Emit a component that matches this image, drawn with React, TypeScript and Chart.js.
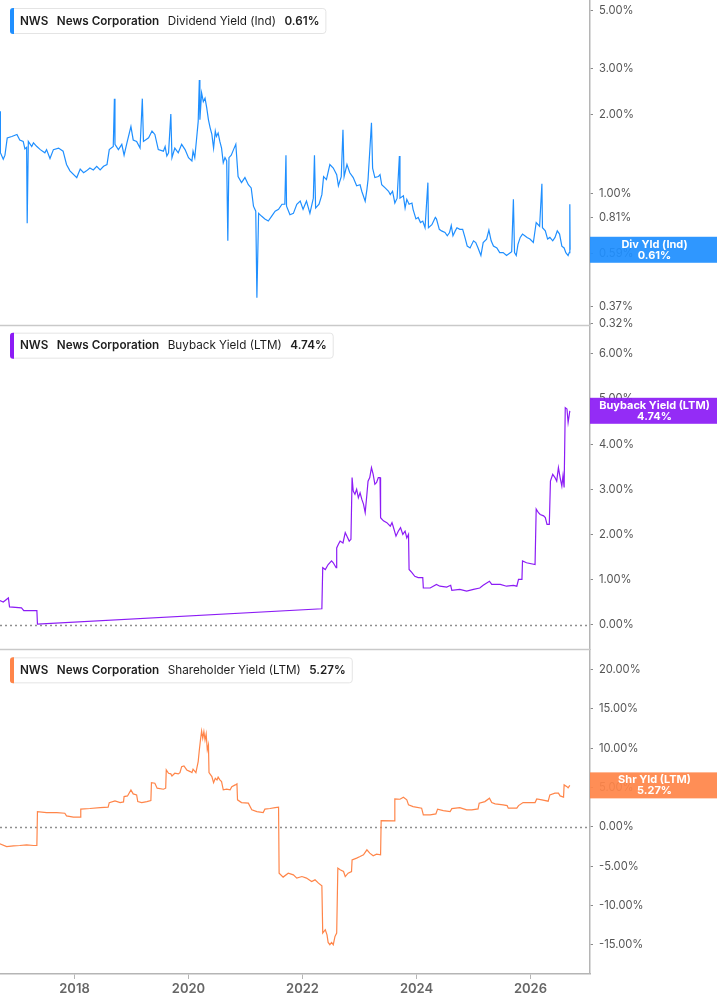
import React, { useEffect, useRef } from "react";
import { Chart, registerables } from "chart.js";

Chart.register(...registerables);
Chart.defaults.font.family = "Inter, 'Noto Sans', sans-serif";

const yearTicks = [2018, 2020, 2022, 2024, 2026];
const divTicks = [5, 3, 2, 1, 0.81, 0.59, 0.37, 0.32];
const buybackTicks = [6, 5, 4, 3, 2, 1, 0];
const shrTicks = [20, 15, 10, 5, 0, -5, -10, -15];

// [year, yield %]
const divYield: [number, number][] = [
  [2016.69, 2.06], [2016.70, 1.43], [2016.75, 1.35], [2016.78, 1.40], [2016.82, 1.63], [2016.90, 1.65],
  [2016.99, 1.68], [2017.04, 1.60], [2017.10, 1.58], [2017.13, 1.48], [2017.16, 1.50], [2017.17, 0.77],
  [2017.19, 1.58], [2017.25, 1.51], [2017.28, 1.56], [2017.34, 1.51], [2017.40, 1.47], [2017.48, 1.43],
  [2017.51, 1.47], [2017.57, 1.36], [2017.63, 1.47], [2017.72, 1.49], [2017.80, 1.45], [2017.86, 1.29],
  [2017.92, 1.22], [2018.04, 1.15], [2018.10, 1.24], [2018.16, 1.20], [2018.21, 1.22], [2018.27, 1.25],
  [2018.33, 1.23], [2018.39, 1.27], [2018.45, 1.23], [2018.51, 1.27], [2018.57, 1.29], [2018.61, 1.47],
  [2018.68, 1.51], [2018.70, 2.30], [2018.71, 1.54], [2018.77, 1.47], [2018.83, 1.54], [2018.87, 1.40],
  [2018.92, 1.56], [2018.99, 1.80], [2019.03, 1.60], [2019.09, 1.58], [2019.15, 1.49], [2019.19, 2.30],
  [2019.21, 1.58], [2019.30, 1.63], [2019.36, 1.73], [2019.41, 1.68], [2019.47, 1.47], [2019.56, 1.45],
  [2019.59, 1.51], [2019.62, 1.39], [2019.65, 1.43], [2019.69, 2.01], [2019.71, 1.37], [2019.76, 1.49],
  [2019.82, 1.43], [2019.88, 1.54], [2019.94, 1.47], [2020.00, 1.37], [2020.06, 1.33], [2020.08, 1.45],
  [2020.11, 1.37], [2020.14, 1.60], [2020.17, 1.88], [2020.19, 2.71], [2020.20, 1.91], [2020.23, 2.42],
  [2020.26, 2.24], [2020.29, 2.31], [2020.32, 2.12], [2020.35, 1.91], [2020.38, 1.78], [2020.41, 1.68],
  [2020.44, 1.49], [2020.47, 1.73], [2020.49, 1.65], [2020.52, 1.70], [2020.55, 1.58], [2020.58, 1.49],
  [2020.61, 1.31], [2020.64, 1.37], [2020.67, 1.33], [2020.69, 0.66], [2020.71, 1.37], [2020.75, 1.40],
  [2020.79, 1.47], [2020.83, 1.54], [2020.87, 1.16], [2020.93, 1.10], [2020.99, 1.15], [2021.05, 1.08],
  [2021.10, 1.05], [2021.14, 0.895], [2021.18, 0.856], [2021.20, 0.40], [2021.23, 0.84], [2021.28, 0.82],
  [2021.34, 0.80], [2021.40, 0.785], [2021.46, 0.82], [2021.52, 0.856], [2021.58, 0.87], [2021.64, 0.91],
  [2021.69, 0.91], [2021.71, 1.40], [2021.72, 0.895], [2021.78, 0.83], [2021.84, 0.84], [2021.90, 0.91],
  [2021.96, 0.935], [2022.01, 0.87], [2022.07, 0.935], [2022.13, 0.84], [2022.19, 0.96], [2022.21, 1.40],
  [2022.23, 0.88], [2022.29, 0.91], [2022.34, 0.99], [2022.37, 1.16], [2022.42, 1.13], [2022.48, 1.29],
  [2022.54, 1.25], [2022.60, 1.18], [2022.63, 1.07], [2022.68, 1.16], [2022.71, 1.75], [2022.73, 1.16],
  [2022.78, 1.29], [2022.83, 1.20], [2022.89, 1.15], [2022.95, 1.07], [2023.01, 1.08], [2023.04, 1.02],
  [2023.10, 0.935], [2023.13, 1.035], [2023.15, 1.13], [2023.21, 1.86], [2023.23, 1.25], [2023.27, 1.15],
  [2023.33, 1.16], [2023.36, 1.18], [2023.39, 1.08], [2023.45, 1.05], [2023.51, 1.02], [2023.54, 0.99],
  [2023.58, 1.02], [2023.62, 0.92], [2023.66, 0.96], [2023.70, 1.39], [2023.71, 0.96], [2023.77, 0.98],
  [2023.80, 0.88], [2023.83, 0.95], [2023.87, 0.91], [2023.92, 0.92], [2023.94, 0.87], [2023.99, 0.80],
  [2024.03, 0.81], [2024.07, 0.775], [2024.11, 0.785], [2024.15, 0.74], [2024.20, 1.10], [2024.21, 0.74],
  [2024.27, 0.76], [2024.33, 0.81], [2024.35, 0.80], [2024.40, 0.73], [2024.44, 0.72], [2024.50, 0.71],
  [2024.54, 0.69], [2024.58, 0.71], [2024.61, 0.755], [2024.64, 0.69], [2024.68, 0.72], [2024.71, 0.74],
  [2024.76, 0.73], [2024.81, 0.73], [2024.85, 0.68], [2024.89, 0.63], [2024.94, 0.62], [2025.00, 0.66],
  [2025.04, 0.65], [2025.08, 0.62], [2025.13, 0.58], [2025.17, 0.65], [2025.23, 0.67], [2025.27, 0.725],
  [2025.31, 0.66], [2025.35, 0.63], [2025.41, 0.62], [2025.46, 0.595], [2025.52, 0.595], [2025.58, 0.58],
  [2025.67, 0.60], [2025.70, 0.95], [2025.72, 0.595], [2025.75, 0.58], [2025.78, 0.64], [2025.82, 0.68],
  [2025.86, 0.70], [2025.90, 0.69], [2025.94, 0.68], [2025.99, 0.67], [2026.05, 0.65], [2026.10, 0.775],
  [2026.16, 0.75], [2026.20, 1.09], [2026.21, 0.74], [2026.26, 0.72], [2026.30, 0.67], [2026.34, 0.68],
  [2026.39, 0.66], [2026.43, 0.68], [2026.47, 0.72], [2026.51, 0.70], [2026.55, 0.63], [2026.59, 0.62],
  [2026.62, 0.595], [2026.66, 0.58], [2026.68, 0.595], [2026.69, 0.91], [2026.695, 0.61],
];

const buybackYield: [number, number][] = [
  [2016.69, 0.53], [2016.75, 0.50], [2016.84, 0.59], [2016.86, 0.39], [2017.07, 0.37], [2017.11, 0.31],
  [2017.34, 0.31], [2017.35, 0.01], [2022.34, 0.35], [2022.355, 1.26], [2022.40, 1.22], [2022.45, 1.33],
  [2022.51, 1.41], [2022.54, 1.37], [2022.59, 1.26], [2022.60, 1.70], [2022.63, 1.78], [2022.66, 1.85],
  [2022.71, 1.81], [2022.75, 2.04], [2022.78, 1.96], [2022.82, 1.85], [2022.85, 1.89], [2022.87, 3.26],
  [2022.89, 2.96], [2022.92, 2.89], [2022.95, 3.00], [2022.98, 2.81], [2023.01, 2.92], [2023.04, 2.78],
  [2023.07, 2.67], [2023.10, 2.48], [2023.13, 2.89], [2023.15, 3.18], [2023.18, 3.26], [2023.21, 3.48],
  [2023.24, 3.33], [2023.27, 3.11], [2023.30, 3.15], [2023.33, 3.26], [2023.36, 3.26], [2023.37, 2.37],
  [2023.42, 2.30], [2023.48, 2.26], [2023.54, 2.18], [2023.57, 2.26], [2023.59, 2.18], [2023.64, 1.96],
  [2023.68, 2.07], [2023.72, 2.15], [2023.76, 2.00], [2023.80, 2.07], [2023.83, 1.92], [2023.86, 2.00],
  [2023.87, 1.22], [2023.92, 1.15], [2023.97, 1.07], [2024.03, 1.04], [2024.11, 1.04], [2024.12, 0.81],
  [2024.24, 0.81], [2024.35, 0.89], [2024.41, 0.85], [2024.53, 0.83], [2024.60, 0.87], [2024.62, 0.76],
  [2024.76, 0.78], [2024.88, 0.74], [2025.00, 0.78], [2025.11, 0.81], [2025.17, 0.87], [2025.28, 0.96],
  [2025.32, 0.89], [2025.47, 0.89], [2025.58, 0.85], [2025.70, 0.87], [2025.76, 0.85], [2025.79, 1.00],
  [2025.85, 1.00], [2025.86, 1.41], [2025.93, 1.37], [2026.08, 1.33], [2026.10, 2.56], [2026.14, 2.48],
  [2026.17, 2.44], [2026.23, 2.41], [2026.26, 2.37], [2026.29, 2.22], [2026.33, 2.22], [2026.35, 3.18],
  [2026.39, 3.33], [2026.43, 3.26], [2026.46, 3.18], [2026.49, 3.48], [2026.52, 3.26], [2026.55, 3.07],
  [2026.57, 3.30], [2026.59, 3.04], [2026.61, 4.81], [2026.64, 4.78], [2026.66, 4.48], [2026.69, 4.74],
];

const shareholderYield: [number, number][] = [
  [2016.69, -2.16], [2016.81, -2.50], [2016.93, -2.41], [2017.04, -2.37], [2017.16, -2.28], [2017.28, -2.37],
  [2017.34, -2.37], [2017.35, 1.94], [2017.51, 1.82], [2017.69, 1.82], [2017.83, 1.73], [2017.86, 1.40],
  [2017.98, 1.23], [2018.10, 1.23], [2018.11, 2.25], [2018.27, 2.33], [2018.45, 2.45], [2018.59, 2.50],
  [2018.61, 3.08], [2018.71, 3.30], [2018.80, 3.08], [2018.86, 3.17], [2018.87, 3.85], [2018.93, 3.93],
  [2018.99, 4.70], [2019.03, 4.19], [2019.09, 4.06], [2019.11, 3.21], [2019.18, 3.08], [2019.27, 3.21],
  [2019.34, 3.34], [2019.35, 5.62], [2019.41, 5.54], [2019.45, 4.91], [2019.56, 4.78], [2019.60, 4.91],
  [2019.61, 7.23], [2019.65, 6.81], [2019.69, 6.73], [2019.71, 6.47], [2019.76, 6.81], [2019.82, 6.73],
  [2019.85, 6.89], [2019.88, 7.65], [2019.92, 7.74], [2019.97, 7.23], [2020.03, 7.02], [2020.06, 6.89],
  [2020.08, 7.32], [2020.13, 6.89], [2020.17, 8.29], [2020.19, 9.77], [2020.21, 11.04], [2020.23, 12.18],
  [2020.25, 11.26], [2020.27, 12.09], [2020.29, 11.04], [2020.31, 11.80], [2020.33, 9.77], [2020.35, 10.41],
  [2020.36, 6.89], [2020.41, 6.38], [2020.44, 5.62], [2020.47, 6.18], [2020.50, 5.96], [2020.52, 6.31],
  [2020.55, 5.96], [2020.58, 5.75], [2020.61, 4.70], [2020.67, 4.78], [2020.73, 4.70], [2020.76, 5.11],
  [2020.82, 5.33], [2020.85, 5.46], [2020.86, 3.43], [2020.93, 3.08], [2021.05, 3.01], [2021.11, 2.16],
  [2021.20, 1.94], [2021.31, 1.82], [2021.34, 2.25], [2021.43, 2.33], [2021.52, 2.45], [2021.58, 2.50],
  [2021.59, -5.88], [2021.66, -6.38], [2021.75, -5.88], [2021.84, -6.09], [2021.90, -6.51], [2021.99, -6.31],
  [2022.07, -6.51], [2022.16, -6.94], [2022.22, -6.73], [2022.28, -7.15], [2022.34, -7.49], [2022.355, -13.49],
  [2022.40, -13.07], [2022.43, -13.71], [2022.45, -14.68], [2022.48, -14.97], [2022.51, -14.68], [2022.54, -14.97],
  [2022.57, -13.92], [2022.60, -13.49], [2022.62, -5.24], [2022.66, -5.46], [2022.72, -5.67], [2022.75, -6.31],
  [2022.80, -5.88], [2022.86, -5.67], [2022.87, -4.19], [2022.95, -3.97], [2023.01, -3.77], [2023.07, -3.55],
  [2023.13, -2.92], [2023.18, -3.34], [2023.24, -3.68], [2023.30, -3.47], [2023.37, -3.55], [2023.38, 0.80],
  [2023.61, 0.76], [2023.62, 3.55], [2023.71, 3.51], [2023.77, 3.77], [2023.83, 3.43], [2023.86, 2.79],
  [2023.94, 2.58], [2024.09, 2.37], [2024.12, 1.52], [2024.24, 1.52], [2024.34, 1.65], [2024.37, 2.25],
  [2024.47, 2.07], [2024.59, 1.94], [2024.62, 2.32], [2024.76, 2.45], [2024.88, 2.16], [2024.97, 2.16],
  [2025.08, 2.28], [2025.10, 3.01], [2025.20, 3.21], [2025.28, 3.64], [2025.32, 3.08], [2025.38, 2.92],
  [2025.52, 2.79], [2025.59, 2.70], [2025.61, 2.37], [2025.76, 2.37], [2025.79, 2.70], [2025.87, 3.08],
  [2025.99, 3.08], [2026.08, 3.08], [2026.11, 3.55], [2026.20, 3.43], [2026.31, 3.26], [2026.34, 4.06],
  [2026.43, 4.28], [2026.49, 4.28], [2026.52, 3.93], [2026.58, 3.77], [2026.59, 5.33], [2026.64, 5.11],
  [2026.66, 4.95], [2026.69, 5.27],
];

const ticker = "NWS";
const company = "News Corporation";

const panels = [
  { axis: "yDiv", color: "#1f8fff", title: "Dividend Yield (Ind)", tag: "Div Yld (Ind)", last: 0.61 },
  { axis: "yBuy", color: "#8c1cf5", title: "Buyback Yield (LTM)", tag: "Buyback Yield (LTM)", last: 4.74 },
  { axis: "yShr", color: "#ff8549", title: "Shareholder Yield (LTM)", tag: "Shr Yld (LTM)", last: 5.27 },
];

const AXIS_W = 127;
const pct = (v: any) => Number(v).toFixed(2) + "%";

const panelPlugin = {
  id: "panelDecor",
  beforeDatasetsDraw(chart: any) {
    const { ctx, chartArea } = chart;
    ctx.save();
    ["yBuy", "yShr"].forEach((id) => {
      const y = Math.round(chart.scales[id].getPixelForValue(0)) + 0.5;
      ctx.strokeStyle = "#8f8f8f";
      ctx.lineWidth = 1.3;
      ctx.setLineDash([2, 3]);
      ctx.beginPath();
      ctx.moveTo(chartArea.left, y);
      ctx.lineTo(chartArea.right, y);
      ctx.stroke();
    });
    ctx.restore();
  },
  afterDraw(chart: any) {
    const { ctx, chartArea } = chart;
    ctx.save();
    // separators between panels
    ["yDiv", "yBuy"].forEach((id) => {
      const y = Math.round(chart.scales[id].bottom) + 0.5;
      ctx.strokeStyle = "#c9c9c9";
      ctx.lineWidth = 1.3;
      ctx.beginPath();
      ctx.moveTo(chartArea.left, y);
      ctx.lineTo(chartArea.right, y);
      ctx.stroke();
    });

    panels.forEach((p) => {
      const scale = chart.scales[p.axis];
      // legend box
      const segs = [
        { t: ticker, w: 600 },
        { t: company, w: 600 },
        { t: p.title, w: 400 },
        { t: p.last.toFixed(2) + "%", w: 600 },
      ];
      const fs = 11.7;
      const gap = 8.5;
      let total = 0;
      const widths = segs.map((s) => {
        ctx.font = `${s.w} ${fs}px Inter`;
        const w = ctx.measureText(s.t).width;
        total += w;
        return w;
      });
      total += gap * (segs.length - 1);
      const bx = 10;
      const by = scale.top + 8;
      const bh = 25;
      const bw = 10 + total + 6;
      ctx.fillStyle = "#ffffff";
      ctx.strokeStyle = "#e4e4e4";
      ctx.lineWidth = 1;
      ctx.beginPath();
      ctx.roundRect(bx + 0.5, by + 0.5, bw, bh, 3);
      ctx.fill();
      ctx.stroke();
      ctx.fillStyle = p.color;
      ctx.beginPath();
      ctx.roundRect(bx, by, 4, bh + 1, [3, 0, 0, 3]);
      ctx.fill();
      let tx = bx + 10;
      ctx.textBaseline = "middle";
      ctx.textAlign = "left";
      ctx.fillStyle = "#1e1e1e";
      segs.forEach((s, i) => {
        ctx.font = `${s.w} ${fs}px Inter`;
        ctx.fillText(s.t, tx, by + bh / 2 + 0.5);
        tx += widths[i] + gap;
      });

      // last value tag on the axis
      const cy = scale.getPixelForValue(p.last);
      const th = 26;
      ctx.globalAlpha = 0.93;
      ctx.fillStyle = p.color;
      ctx.fillRect(chartArea.right, cy - th / 2, chart.width - chartArea.right, th);
      ctx.globalAlpha = 1;
      ctx.fillStyle = "#ffffff";
      ctx.textAlign = "center";
      ctx.font = "700 11px Inter";
      const cx = (chartArea.right + chart.width) / 2 + 1;
      ctx.fillText(p.tag, cx, cy - 5.5);
      ctx.fillText(p.last.toFixed(2) + "%", cx, cy + 5.5);
    });
    ctx.restore();
  },
};

const yAxisCommon = (ticksList: number[], weight: number, min: number, max: number) => ({
  min,
  max,
  position: "right" as const,
  stack: "panels",
  stackWeight: 1,
  weight,
  border: { display: true, color: "#b5b5b5", width: 1.5 },
  grid: { display: true, drawOnChartArea: false, drawTicks: true, tickLength: 3, color: "#8a8a8a" },
  ticks: {
    autoSkip: false,
    padding: 6,
    color: "#555555",
    font: { size: 11.2 },
    callback: pct,
  },
  afterBuildTicks: (s: any) => {
    s.ticks = ticksList.map((v) => ({ value: v }));
    s.min = min;
    s.max = max;
  },
  afterFit: (s: any) => {
    s.width = AXIS_W;
    s.paddingTop = 0;
    s.paddingBottom = 0;
  },
});

const App: React.FC = () => {
  const canvasRef = useRef<HTMLCanvasElement>(null);
  const chartRef = useRef<Chart | null>(null);

  useEffect(() => {
    if (!canvasRef.current) return;
    const ctx = canvasRef.current.getContext("2d");
    if (!ctx) return;
    if (chartRef.current) chartRef.current.destroy();

    const toXY = (arr: [number, number][]) => arr.map(([x, y]) => ({ x, y }));

    chartRef.current = new Chart(ctx, {
      type: "line",
      data: {
        datasets: [
          { data: toXY(divYield), yAxisID: "yDiv", borderColor: panels[0].color },
          { data: toXY(buybackYield), yAxisID: "yBuy", borderColor: panels[1].color },
          { data: toXY(shareholderYield), yAxisID: "yShr", borderColor: panels[2].color },
        ].map((d) => ({ ...d, borderWidth: 1.2, pointRadius: 0, fill: false, tension: 0 })),
      },
      options: {
        animation: false,
        responsive: true,
        maintainAspectRatio: false,
        layout: { padding: 0 },
        plugins: {
          legend: { display: false },
          tooltip: { enabled: false },
        },
        scales: {
          x: {
            type: "linear",
            min: 2016.693,
            max: 2027.044,
            border: { display: true, color: "#b5b5b5", width: 1.5 },
            grid: { display: true, drawOnChartArea: false, drawTicks: true, tickLength: 5, color: "#b5b5b5" },
            ticks: {
              autoSkip: false,
              maxRotation: 0,
              padding: 2,
              color: "#666666",
              font: { size: 13, weight: 600 },
              callback: (v: any) => String(v),
            },
            afterBuildTicks: (s: any) => {
              s.ticks = yearTicks.map((v) => ({ value: v }));
            },
            afterFit: (s: any) => {
              s.height = 31;
              s.paddingLeft = 0;
              s.paddingRight = 0;
            },
          },
          yDiv: { type: "logarithmic", ...yAxisCommon(divTicks, 1, 0.316, 5.47) },
          yBuy: { type: "linear", ...yAxisCommon(buybackTicks, 2, -0.55, 6.65) },
          yShr: { type: "linear", ...yAxisCommon(shrTicks, 3, -18.69, 22.55) },
        },
      } as any,
      plugins: [panelPlugin],
    });

    return () => {
      if (chartRef.current) {
        chartRef.current.destroy();
        chartRef.current = null;
      }
    };
  }, []);

  return (
    <div style={{ position: "absolute", left: 0, top: 0, width: 717, height: 1005, background: "#ffffff" }}>
      <canvas ref={canvasRef}></canvas>
    </div>
  );
};

export default App;
